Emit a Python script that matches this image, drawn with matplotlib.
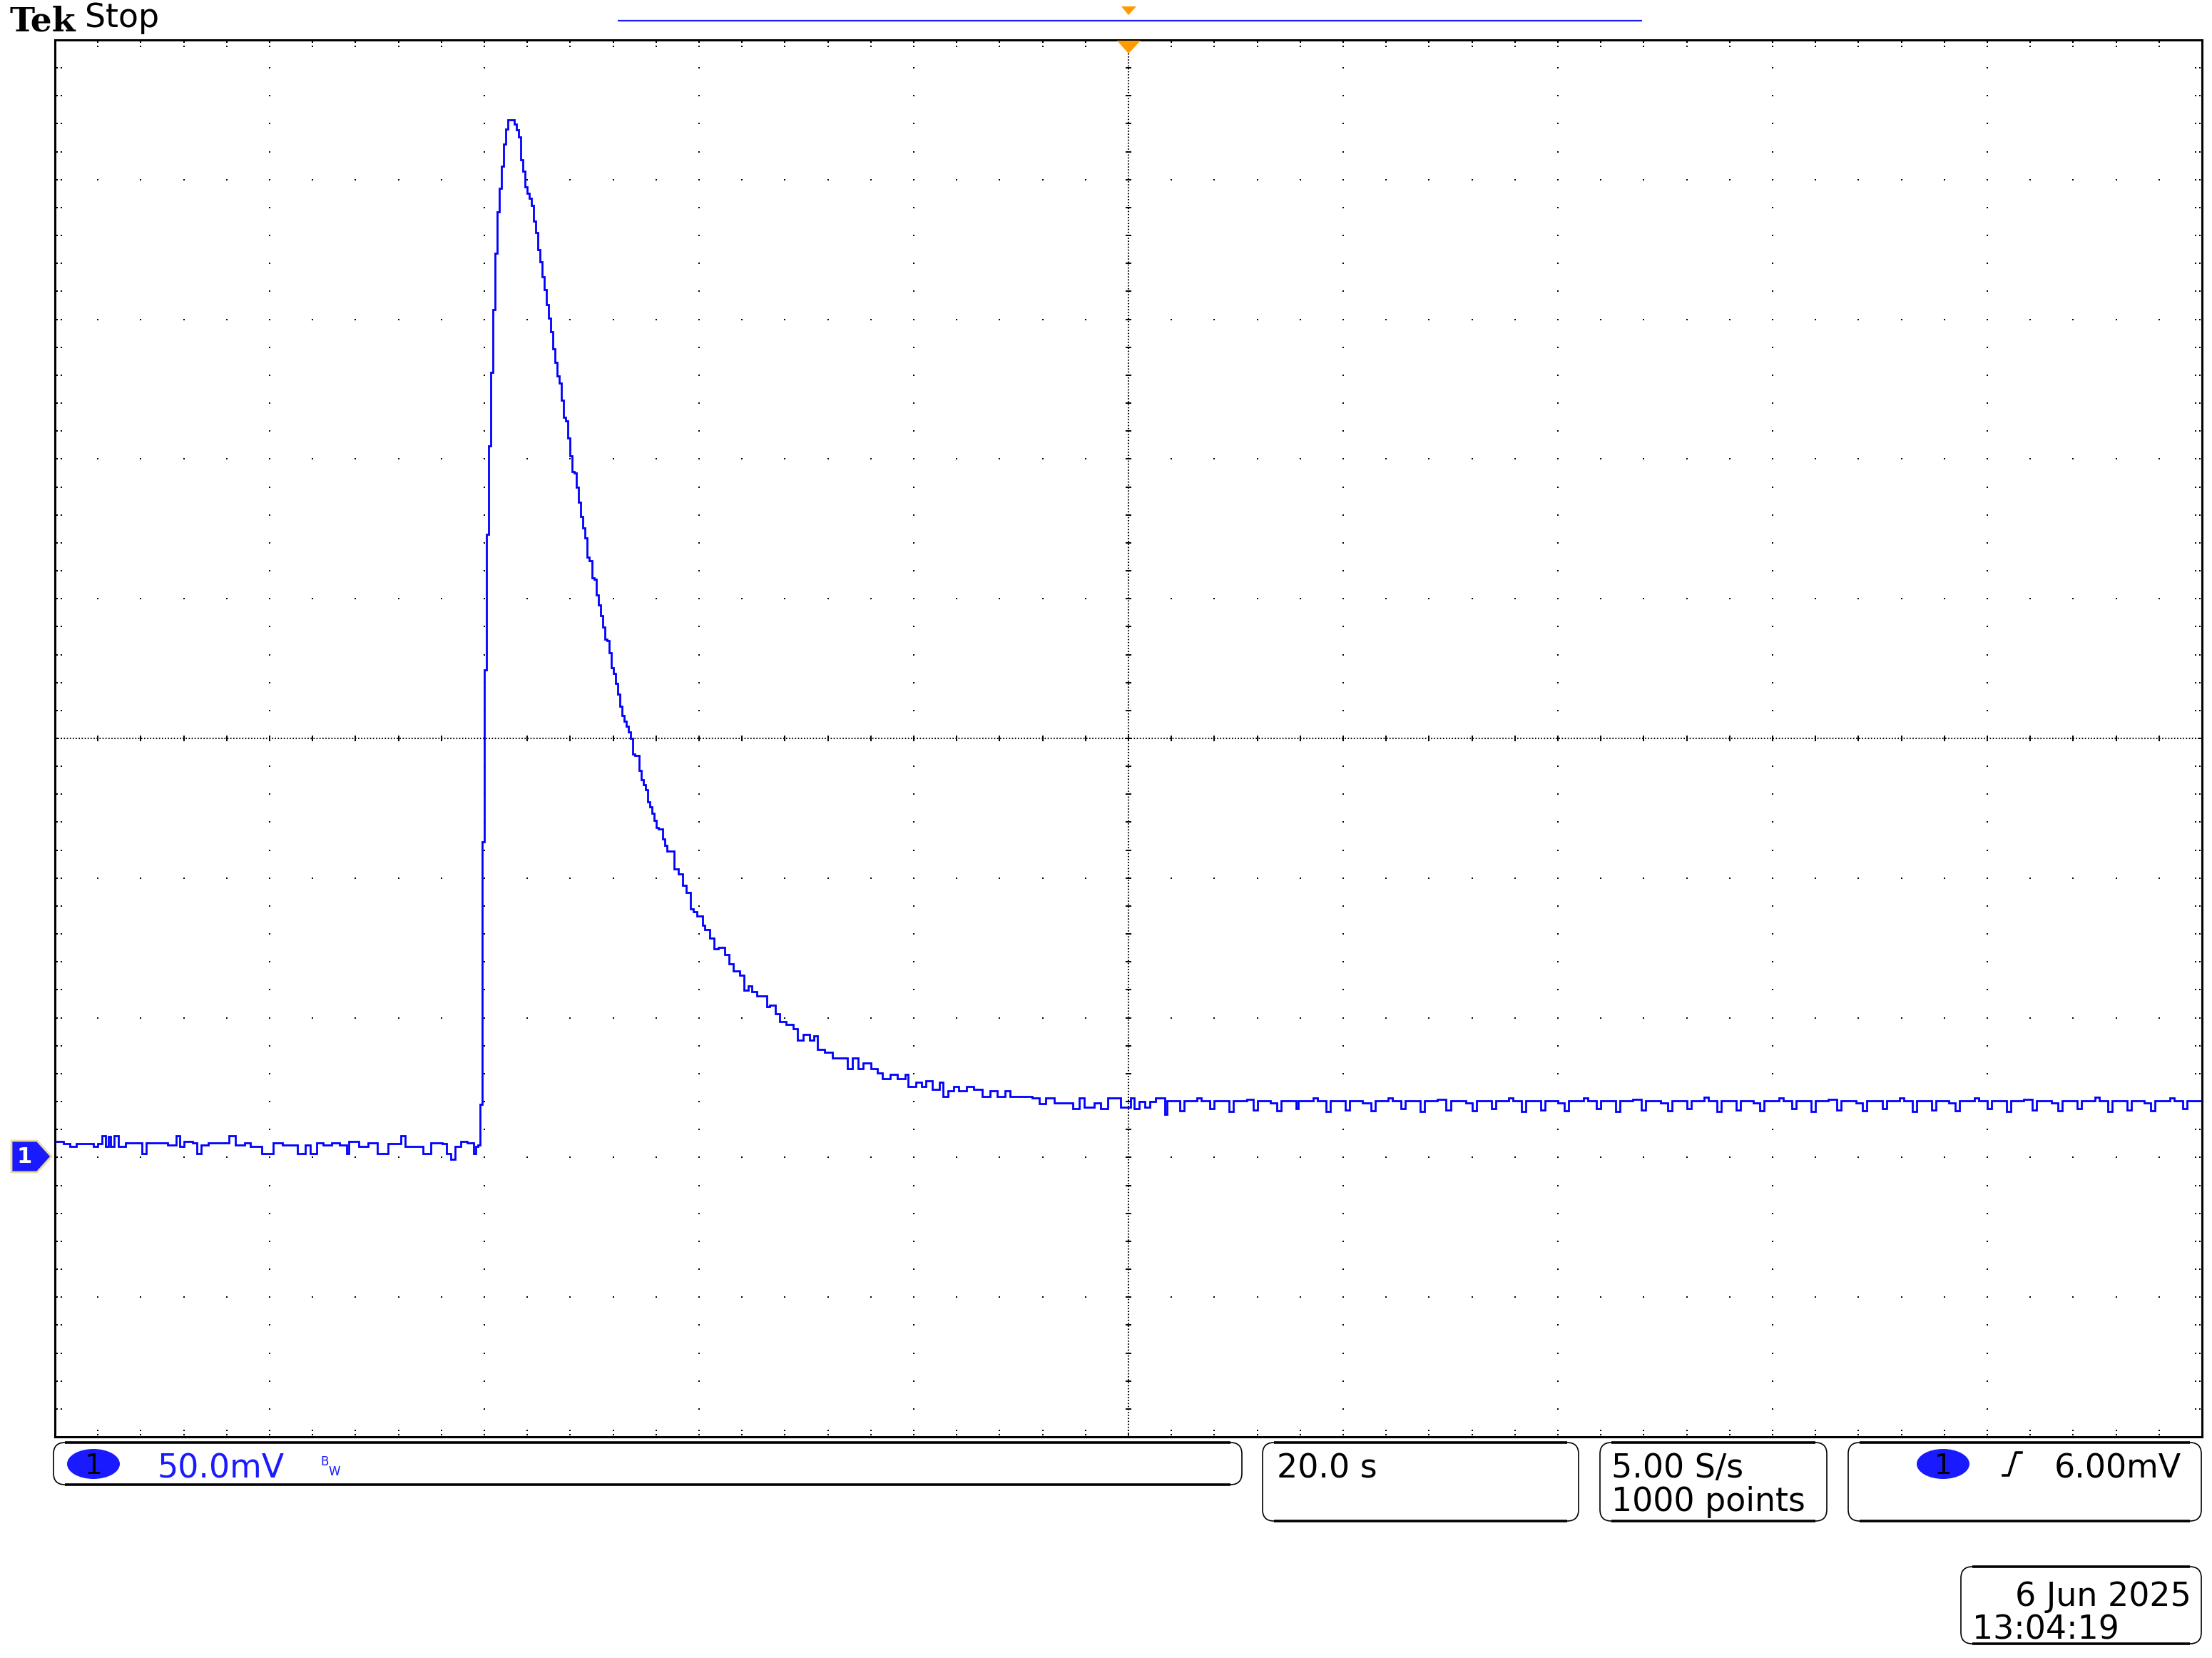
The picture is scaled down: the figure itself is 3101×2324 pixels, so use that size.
import numpy as np
import matplotlib
matplotlib.use("Agg")
import matplotlib.pyplot as plt
from matplotlib.patches import FancyBboxPatch, Ellipse, Polygon

W, H = 3101, 2324

# scope settings shown in the readout
volts_per_div = 50.0   # mV/div
secs_per_div = 20.0    # s/div
sample_period = 0.2    # 5.00 S/s
ground_div = -3        # CH1 ground marker, divisions from screen centre

# CH1 trace: time (s, trigger at 0) and mV above ground
pre_t = [-99.9, -99.2, -98.6, -98.0, -97.2, -96.4, -96.0, -95.6, -95.3, -95.0,
         -94.8, -94.5, -94.1, -93.4, -92.3, -91.9, -91.5, -90.4, -89.5, -88.7,
         -88.4, -88.0, -87.2, -86.8, -86.4, -85.7, -84.6, -83.8, -83.2, -82.3,
         -81.8, -80.7, -79.7, -78.8, -77.4, -76.7, -76.2, -75.6, -75.0, -74.2,
         -73.5, -72.8, -72.6, -71.7, -70.8, -70.0, -69.0, -67.8, -67.4, -66.6,
         -65.7, -65.0, -63.9, -63.5, -63.1, -62.7, -62.2, -61.6, -61.0, -60.8]
pre_mv = [5.7, 5.0, 4.0, 4.9, 4.9, 4.0, 4.9, 7.8, 4.0, 7.4,
          4.0, 7.8, 4.0, 5.3, 5.3, 1.5, 5.3, 5.3, 4.4, 7.8,
          4.0, 5.7, 5.3, 1.5, 4.4, 5.3, 5.3, 7.8, 4.4, 5.3,
          4.0, 1.5, 5.3, 4.4, 1.5, 4.4, 1.5, 5.3, 4.4, 5.3,
          4.4, 1.5, 5.7, 4.0, 5.3, 1.5, 4.9, 7.8, 4.0, 4.0,
          1.5, 5.3, 5.0, 1.5, -0.7, 4.0, 5.7, 5.3, 1.5, 4.0]

# pulse, one value per sample starting at pulse_t0
pulse_t0 = -60.6
pulse_mv = [4.5, 19.1, 113.0, 174.5, 223.0, 254.7, 280.9, 303.4, 323.7, 338.4,
            346.9, 354.7, 362.8, 368.2, 371.4, 371.4, 371.4, 369.9, 367.7, 365.2,
            357.2, 353.0, 347.4, 345.0, 343.2, 340.8, 335.2, 331.0, 324.9, 320.5,
            315.1, 310.7, 305.3, 300.4, 295.5, 289.4, 284.5, 279.6, 277.2, 271.1,
            265.0, 263.7, 257.6, 251.0, 245.4, 244.9, 240.0, 234.4, 229.5, 225.3,
            221.7, 214.8, 213.6, 207.5, 207.0, 201.4, 197.7, 194.0, 189.9, 185.5,
            185.0, 180.6, 175.2, 173.2, 169.6, 165.9, 161.5, 158.1, 156.1, 154.4,
            152.4, 150.0, 144.4, 143.9, 143.9, 138.5, 135.3, 133.4, 131.7, 127.2,
            125.5, 123.1, 120.6, 118.2, 117.5, 117.5, 114.0, 111.6, 109.6]

decay_t = [-42.3, -41.9, -41.5, -41.2, -40.8, -40.5, -40.2, -39.7, -39.5, -39.0,
           -38.6, -38.2, -37.6, -37.2, -36.8, -36.2, -35.8, -35.4, -35.1, -34.6,
           -34.1, -33.7, -33.4, -32.9, -32.5, -31.9, -31.2, -30.8, -30.3, -29.7,
           -29.3, -29.0, -28.3, -27.6, -26.9, -26.2, -25.7, -25.2, -24.7, -24.0,
           -23.4, -22.9, -22.2, -21.5, -20.8, -20.5, -19.8, -19.3, -18.9, -18.3,
           -17.6, -17.3, -16.8, -16.3, -15.8, -15.1, -14.4, -13.6, -12.9, -12.2,
           -11.5, -11.0, -10.0, -9.0, -8.3, -7.7, -6.9, -5.9, -5.2, -4.6,
           -4.1, -3.2, -2.6, -1.9, -1.4, -0.7, 0.2, 0.5, 1.0, 1.5,
           2.0, 2.5, 3.4]
decay_mv = [103.3, 101.5, 97.5, 94.9, 89.0, 88.0, 86.4, 83.2, 81.6, 78.4,
            74.7, 75.2, 72.6, 69.4, 66.8, 65.2, 59.9, 61.5, 59.3, 57.7,
            57.7, 54.0, 54.6, 51.4, 48.7, 47.7, 46.1, 41.9, 44.0, 41.9,
            43.4, 38.7, 37.6, 35.5, 35.5, 31.8, 35.5, 31.8, 33.9, 31.8,
            30.2, 28.1, 29.7, 28.1, 29.7, 25.4, 27.0, 25.4, 27.3, 24.4,
            27.0, 21.7, 23.8, 25.4, 23.8, 25.4, 24.4, 21.7, 23.8, 21.7,
            23.8, 21.7, 21.7, 21.4, 19.3, 21.2, 19.6, 19.6, 17.5, 21.4,
            18.0, 19.6, 17.5, 21.4, 21.2, 18.0, 21.2, 17.5, 19.9, 18.0,
            20.1, 21.4, 15.4]

tail_t = [3.6, 4.8, 5.2, 6.4, 6.8, 7.6, 8.0, 9.4, 9.8, 11.0,
          11.6, 12.0, 13.2, 13.8, 14.2, 15.6, 15.8, 17.2, 17.6, 18.4,
          18.8, 20.2, 20.6, 21.8, 22.6, 23.0, 24.2, 24.6, 25.4, 25.8,
          27.2, 27.6, 28.8, 29.6, 30.0, 31.4, 32.0, 32.4, 33.8, 34.2,
          35.4, 35.8, 36.6, 37.0, 38.4, 38.8, 40.0, 40.6, 41.0, 42.4,
          42.8, 43.6, 44.0, 45.4, 45.8, 47.0, 47.8, 48.2, 49.6, 50.2,
          50.6, 52.0, 52.4, 53.6, 54.0, 54.8, 55.2, 56.6, 57.0, 58.2,
          58.8, 59.2, 60.6, 61.0, 61.8, 62.2, 63.6, 64.0, 65.2, 66.0,
          66.4, 67.8, 68.4, 68.8, 70.2, 70.6, 71.8, 72.2, 73.0, 73.4,
          74.8, 75.2, 76.4, 77.0, 77.4, 78.8, 79.2, 80.0, 80.4, 81.8,
          82.2, 83.4, 84.2, 84.6, 86.0, 86.6, 87.0, 88.4, 88.8, 90.0,
          90.4, 91.2, 91.6, 93.0, 93.4, 94.6, 95.2, 95.6, 97.0, 97.4,
          98.2, 98.6, 99.8]
tail_mv = [20.3, 16.8, 20.3, 21.4, 20.3, 17.5, 20.3, 16.5, 20.3, 20.8,
           17.0, 20.3, 19.6, 16.8, 20.3, 17.5, 20.3, 21.2, 20.3, 16.5,
           20.3, 17.0, 20.3, 19.6, 16.8, 20.3, 21.2, 20.3, 17.5, 20.3,
           16.5, 20.3, 20.8, 17.0, 20.3, 19.6, 16.8, 20.3, 17.5, 20.3,
           21.4, 20.3, 16.5, 20.3, 17.0, 20.3, 19.6, 16.8, 20.3, 21.2,
           20.3, 17.5, 20.3, 16.5, 20.3, 20.8, 17.0, 20.3, 19.6, 16.8,
           20.3, 17.5, 20.3, 21.5, 20.3, 16.5, 20.3, 17.0, 20.3, 19.6,
           16.8, 20.3, 21.2, 20.3, 17.5, 20.3, 16.5, 20.3, 20.8, 17.0,
           20.3, 19.6, 16.8, 20.3, 17.5, 20.3, 21.4, 20.3, 16.5, 20.3,
           17.0, 20.3, 19.6, 16.8, 20.3, 21.2, 20.3, 17.5, 20.3, 16.5,
           20.3, 20.8, 17.0, 20.3, 19.6, 16.8, 20.3, 17.5, 20.3, 21.5,
           20.3, 16.5, 20.3, 17.0, 20.3, 19.6, 16.8, 20.3, 21.2, 20.3,
           17.5, 20.3, 20.3]

# readout texts
ch_scale = "50.0mV"
time_scale = "20.0 s"
rate_text = "5.00 S/s"
points_text = "1000 points"
trig_level = "6.00mV"
date_text = "6 Jun 2025"
time_text = "13:04:19"

BLUE = "#0000ff"
TXT_BLUE = "#1a1aff"
ORANGE = "#ff9a00"

fig = plt.figure(figsize=(W / 100, H / 100), dpi=100)

# screen graticule, in scope units
x_lo, x_hi = -5 * secs_per_div, 5 * secs_per_div
y_lo, y_hi = (-5 - ground_div) * volts_per_div, (5 - ground_div) * volts_per_div
y_mid = -ground_div * volts_per_div
ax = fig.add_axes([77 / W, 1 - 2014 / H, 3010 / W, 1958 / H])
ax.set_xlim(x_lo, x_hi)
ax.set_ylim(y_lo, y_hi)
ax.set_xticks([])
ax.set_yticks([])
for sp in ax.spines.values():
    sp.set_linewidth(2.2)
    sp.set_color("black")

px_x = (x_hi - x_lo) / 3010
px_y = (y_hi - y_lo) / 1958
minor_x = np.linspace(x_lo, x_hi, 51)
minor_y = np.linspace(y_lo, y_hi, 51)
major_x = np.linspace(x_lo, x_hi, 11)[1:-1]
major_y = np.linspace(y_lo, y_hi, 11)[1:-1]
dot = dict(marker="s", s=4, color="black", linewidths=0, zorder=1)

for mx in major_x:
    if abs(mx) > 1e-9:
        ax.scatter(np.full(49, mx), minor_y[1:-1], **dot)
for my in major_y:
    if abs(my - y_mid) > 1e-9:
        ax.scatter(minor_x[1:-1], np.full(49, my), **dot)

# border ticks
for off in (3, 9):
    ax.scatter(minor_x[1:-1], np.full(49, y_hi - off * px_y), **dot)
    ax.scatter(minor_x[1:-1], np.full(49, y_lo + off * px_y), **dot)
    ax.scatter(np.full(49, x_lo + off * px_x), minor_y[1:-1], **dot)
    ax.scatter(np.full(49, x_hi - off * px_x), minor_y[1:-1], **dot)

# centre crosshair
ax.axvline(0, color="black", lw=1.5, ls=(0, (0.8, 1.2)), zorder=1)
ax.axhline(y_mid, color="black", lw=1.5, ls=(0, (0.8, 1.2)), zorder=1)
ax.plot(np.zeros(49), minor_y[1:-1], ls="none", marker="_", ms=6, mew=1.4,
        color="black", zorder=1)
ax.plot(minor_x[1:-1], np.full(49, y_mid), ls="none", marker="|", ms=6, mew=1.4,
        color="black", zorder=1)

# trace
pulse_t = pulse_t0 + sample_period * np.arange(len(pulse_mv))
trace_t = np.concatenate([pre_t, pulse_t, decay_t, tail_t])
trace_mv = np.concatenate([pre_mv, pulse_mv, decay_mv, tail_mv])
ax.plot(trace_t, trace_mv, color=BLUE, lw=2.0, drawstyle="steps-post",
        solid_joinstyle="miter", zorder=3)

# overlay in screen pixels for the readouts and markers
ov = fig.add_axes([0, 0, 1, 1])
ov.set_xlim(0, W)
ov.set_ylim(H, 0)
ov.axis("off")
ov.patch.set_visible(False)
ov.set_zorder(5)

ov.text(14, 43, "Tek", family="DejaVu Serif", weight="bold", fontsize=34,
        va="baseline", ha="left")
ov.text(119, 38, "Stop", family="DejaVu Sans", fontsize=33,
        va="baseline", ha="left")

# record-length bar and trigger position markers
ov.plot([866, 2302], [29, 29], color=TXT_BLUE, lw=1.6, solid_capstyle="butt")
ov.add_patch(Polygon([(1572, 9), (1593, 9), (1582, 21)], closed=True, fc=ORANGE, ec="none"))
ov.add_patch(Polygon([(1566, 57), (1599, 57), (1582, 75)], closed=True, fc=ORANGE, ec="none"))

# CH1 ground marker
ov.add_patch(Polygon([(16, 1599), (52, 1599), (72, 1621), (52, 1643), (16, 1643)],
                     closed=True, fc=TXT_BLUE, ec="#e8dd9a", lw=2))
ov.text(34, 1622, "1", color="white", weight="bold", fontsize=22,
        ha="center", va="center")


def readout_box(x0, y0, x1, y1):
    r = 16
    ov.add_patch(FancyBboxPatch((x0, y0), x1 - x0, y1 - y0,
                                boxstyle=f"round,pad=0,rounding_size={r}",
                                fc="none", ec="black", lw=1.2))
    ov.plot([x0 + r, x1 - r], [y0, y0], color="black", lw=2.6, solid_capstyle="butt")
    ov.plot([x0 + r, x1 - r], [y1, y1], color="black", lw=2.6, solid_capstyle="butt")


def ch_badge(cx, cy):
    ov.add_patch(Ellipse((cx, cy), 74, 42, fc=TXT_BLUE, ec="none"))
    ov.text(cx, cy + 14, "1", color="black", fontsize=28, ha="center", va="baseline")


readout_box(75, 2022, 1741, 2081)
ch_badge(131, 2052)
ov.text(220, 2071, ch_scale, color=TXT_BLUE, fontsize=33, va="baseline")
ov.text(449, 2054, "B", color=TXT_BLUE, fontsize=12, va="baseline")
ov.text(460, 2068, "W", color=TXT_BLUE, fontsize=12, va="baseline")

readout_box(1770, 2022, 2213, 2132)
ov.text(1790, 2071, time_scale, fontsize=33, va="baseline")

readout_box(2243, 2022, 2561, 2132)
ov.text(2259, 2071, rate_text, fontsize=33, va="baseline")
ov.text(2259, 2118, points_text, fontsize=33, va="baseline")

readout_box(2591, 2022, 3086, 2132)
ch_badge(2724, 2052)
ov.plot([2808, 2816, 2826, 2834], [2068, 2068, 2036, 2036], color="black", lw=2.6)
ov.text(3058, 2071, trig_level, fontsize=33, va="baseline", ha="right")

readout_box(2749, 2196, 3086, 2304)
ov.text(3072, 2251, date_text, fontsize=33, va="baseline", ha="right")
ov.text(2765, 2297, time_text, fontsize=33, va="baseline", ha="left")

fig.savefig("out.png", dpi=100)
